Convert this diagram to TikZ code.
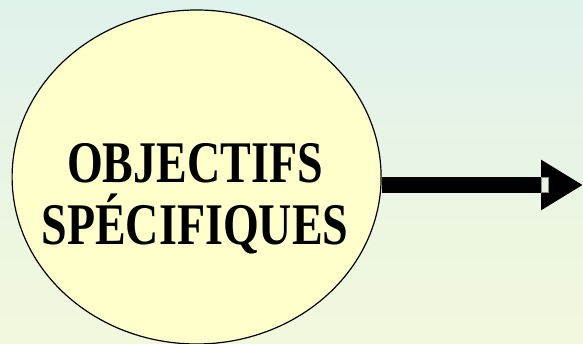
\documentclass[tikz,border=0pt]{standalone}
\usepackage{fontspec}
\setmainfont{Liberation Serif}
\newfontfamily\objfont[FakeStretch=0.78]{Liberation Serif}
\usepackage{tikz}
\usetikzlibrary{arrows.meta,positioning,shapes.geometric}
\definecolor{bgtop}{RGB}{224,242,236}
\definecolor{bgbottom}{RGB}{242,248,220}
\definecolor{objfill}{RGB}{255,255,204}

\begin{document}
\begin{tikzpicture}[
		x=1pt, y=1pt,
		>=Triangle,
		font=\objfont\bfseries,
		objcircle/.style={
			ellipse,
			draw=black,
			line width=1.2pt,
			fill=objfill,
			inner sep=0pt,
			minimum width=369pt,
			minimum height=334pt
		},
		objlabel/.style={
			align=center,
			inner sep=0pt,
			font=\objfont\bfseries\fontsize{59}{61.5}\selectfont
		},
		bigarrow/.style={
			draw=black,
			line width=16pt,
			-{Triangle[length=42pt,width=47.5pt]}
		}
		]
		% background
		\shade [top color=bgtop, bottom color=bgbottom] (0,0) rectangle (583,344);
		\useasboundingbox (0,0) rectangle (583,344);
		
		% We start by placing the circle
		\node [objcircle] (obj) at (196.6,167) {};
		\node [objlabel] (objtxt) at (195,145) {OBJECTIFS\\SPÉCIFIQUES};
		
		% then the arrow
		\coordinate (tip) at (583,159);
		\draw [bigarrow] (obj.east |- tip) -- (tip);
		\draw [draw=black!45, fill=bgbottom!60!bgtop, line width=0.5pt] (541,151.7) rectangle (548.3,166.7);
		
\end{tikzpicture}
\end{document}
